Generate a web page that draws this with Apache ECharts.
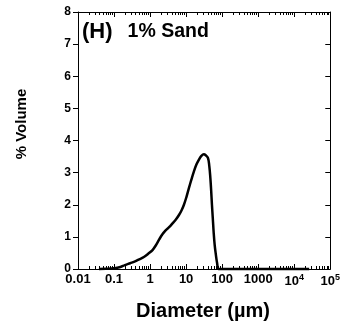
<!DOCTYPE html>
<html><head><meta charset="utf-8">
<script src="https://cdn.jsdelivr.net/npm/echarts@6/dist/echarts.min.js"></script>
<style>html,body{margin:0;padding:0;background:#fff}#c{width:343px;height:329px}</style>
</head><body><div id="c"></div>
<script>
// Particle size distribution, panel (H) 1% Sand
const diameters = [0.038,0.06,0.1,0.15,0.2,0.28,0.37,0.5,0.69,0.9,1.17,1.45,1.79,2.2,2.7,3.37,4.2,5.2,6.34,7.5,8.7,10.2,11.9,14,16.4,19.3,22.5,26.5,31,35,40.5,44,47.1,49.5,52.1,55,58,62,67,72,79,85,100,300,1000,3000,10000,26000];
const volumes   = [0,0.005,0.02,0.06,0.12,0.18,0.23,0.3,0.38,0.48,0.59,0.74,0.92,1.08,1.2,1.3,1.42,1.54,1.68,1.83,2.0,2.24,2.51,2.78,3.03,3.25,3.4,3.52,3.57,3.54,3.45,3.2,2.83,2.45,2.0,1.58,1.16,0.75,0.44,0.2,0,0,0,0,0,0,0,0];
const xTickLabels = ['0.01','0.1','1','10','100','1000','10^4','10^5'];
const yTicks = [0,1,2,3,4,5,6,7,8];
const panelTag = '(H)';
const panelTitle = '1% Sand';
const xTitle = 'Diameter (µm)';
const yTitle = '% Volume';

const FONT = "'Liberation Sans', Arial, Helvetica, sans-serif";
const chart = echarts.init(document.getElementById('c'), null, {renderer: 'canvas'});

function xLabel(v) {
  const e = Math.round(Math.log10(v));
  const s = xTickLabels[e + 2];
  if (s === undefined) return '';
  if (s.indexOf('^') >= 0) {
    const p = s.split('^');
    return '{b|' + p[0] + '}{s|' + p[1] + '}';
  }
  return '{b|' + s + '}';
}

const axisLine = {show: true, onZero: false, lineStyle: {color: '#000', width: 1}};
const xCommon = {
  type: 'log', logBase: 10, min: 0.01, max: 100000,
  axisLine: axisLine, splitLine: {show: false},
  minorTick: {show: true, splitNumber: 9, length: 3, lineStyle: {color: '#000', width: 1}},
  minorSplitLine: {show: false}
};
const points = diameters.map((d, i) => [d, volumes[i]]);

chart.setOption({
  animation: false,
  backgroundColor: '#fff',
  grid: {left: 78, right: 10, top: 12, bottom: 60, containLabel: false},
  title: {
    text: '{a|' + panelTag + '}{b|' + panelTitle + '}',
    left: 82, top: 21, padding: 0,
    textStyle: {
      rich: {
        a: {fontFamily: FONT, fontWeight: 'bold', fontSize: 22, color: '#000'},
        b: {fontFamily: FONT, fontWeight: 'bold', fontSize: 19.5, color: '#000', padding: [0, 0, 0, 15]}
      }
    }
  },
  xAxis: [
    Object.assign({}, xCommon, {
      position: 'bottom',
      axisTick: {show: true, inside: true, length: 5, lineStyle: {color: '#000'}},
      axisLabel: {
        show: true, margin: 4, formatter: xLabel,
        rich: {
          b: {fontFamily: FONT, fontWeight: 'bold', fontSize: 13, color: '#000'},
          s: {fontFamily: FONT, fontWeight: 'bold', fontSize: 9, color: '#000', padding: [0, 0, 8, 0]}
        }
      }
    }),
    Object.assign({}, xCommon, {
      position: 'top',
      axisTick: {show: true, inside: true, length: 5, lineStyle: {color: '#000'}},
      axisLabel: {show: false}
    })
  ],
  yAxis: [
    {
      type: 'value', min: yTicks[0], max: yTicks[yTicks.length - 1], interval: 1,
      position: 'left', axisLine: axisLine, splitLine: {show: false},
      axisTick: {show: true, inside: false, length: 5, lineStyle: {color: '#000'}},
      axisLabel: {show: true, margin: 7, fontFamily: FONT, fontWeight: 'bold', fontSize: 12, color: '#000'}
    },
    {
      type: 'value', min: yTicks[0], max: yTicks[yTicks.length - 1], interval: 1,
      position: 'right', axisLine: axisLine, splitLine: {show: false},
      axisTick: {show: true, inside: true, length: 5, lineStyle: {color: '#000'}},
      axisLabel: {show: false}
    }
  ],
  graphic: [
    {type: 'text', x: 22, y: 124, rotation: Math.PI / 2,
     style: {text: yTitle, font: 'bold 15px ' + FONT, fill: '#000', align: 'center', verticalAlign: 'middle'}},
    {type: 'text', x: 203, y: 311,
     style: {text: xTitle, font: 'bold 20px ' + FONT, fill: '#000', align: 'center', verticalAlign: 'middle'}}
  ],
  series: [{
    type: 'line', xAxisIndex: 0, yAxisIndex: 0,
    data: points,
    showSymbol: false, smooth: 0.4,
    lineStyle: {color: '#000', width: 2.5},
    clip: false
  }]
});
</script></body></html>
